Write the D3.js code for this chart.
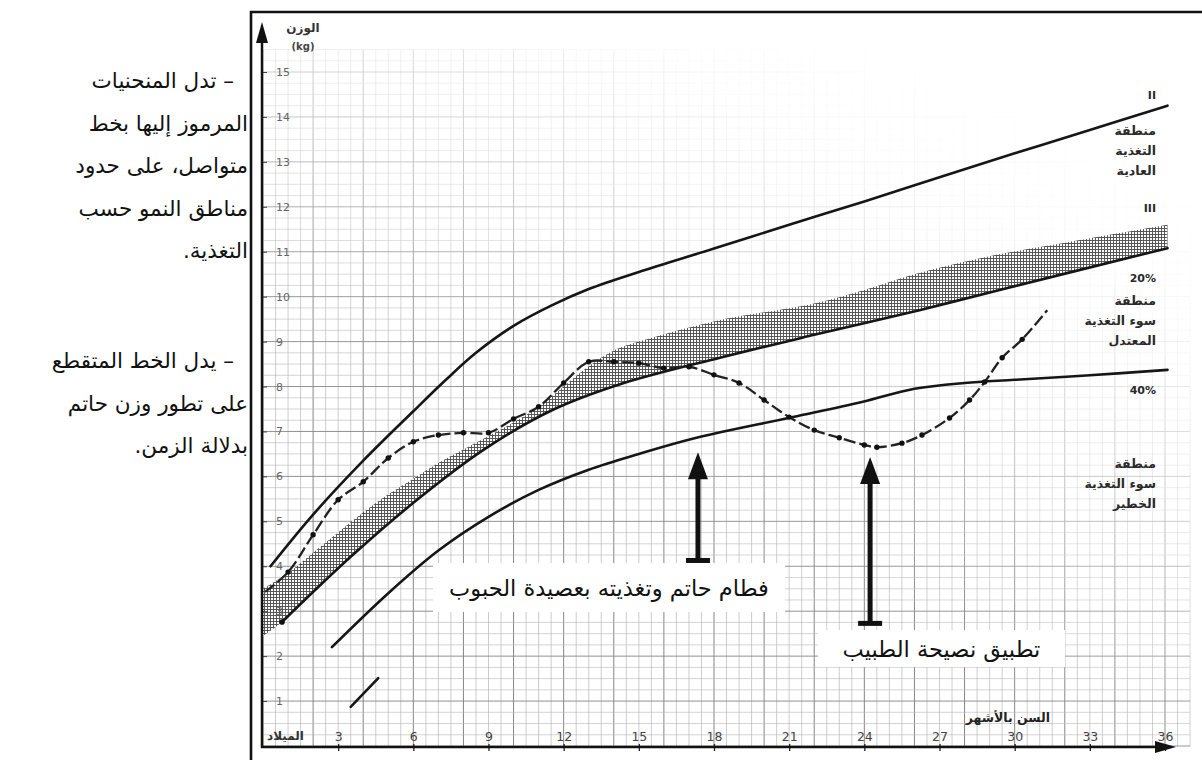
<!DOCTYPE html>
<html><head><meta charset="utf-8">
<script src="https://cdn.jsdelivr.net/npm/d3@7"></script>
<style>
html,body{margin:0;padding:0;background:#fff;}
svg{display:block;}
text{font-family:"DejaVu Sans",sans-serif;}
</style></head><body>
<svg id="chart" width="1202" height="760"></svg>
<script>
// ---------- DATA ----------
const monthTicks = [3,6,9,12,15,18,21,24,27,30,33,36];
const monthTickLabels = ["3","6","9","12","15","18","21","24","27","30","33","36"];
const weightTicks = [1,2,3,4,5,6,7,8,9,10,11,12,13,14,15];
const birthLabel = "الميلاد";
const xTitle = "السن بالأشهر";
const yTitle = ["الوزن","(kg)"];

// boundary curves [month, kg]
const curveII = [[0.3,4.0],[2,5.15],[4,6.35],[6,7.45],[7.3,8.15],[8.5,8.75],[10,9.35],[11.5,9.8],[13,10.17],[15,10.55],[18,11.07],[21,11.6],[24,12.12],[27,12.66],[30,13.19],[33,13.71],[36.1,14.25]];
const curve20 = [[0.76,2.76],[3.5,4.21],[6.15,5.48],[8.8,6.59],[11.45,7.45],[14.25,8.05],[18.24,8.64],[22,9.15],[26.2,9.7],[29.4,10.15],[36.1,11.08]];
const curve40 = [[2.75,2.2],[5,3.4],[7,4.35],[9,5.1],[11,5.7],[13,6.15],[15,6.5],[17.3,6.86],[21.15,7.32],[23.94,7.66],[26,7.95],[28,8.08],[30,8.15],[33,8.25],[36.1,8.37]];
const curve60 = [[3.5,0.87],[4.6,1.51]];
// shaded band (zone III): upper edge, lower edge is curve20
const bandMonths = [0,1,2,3,4,5,6,7,8,9,10,11,12,13,14,15,18,22,24,26,29,32,36.1];
const bandTopKg  = [3.5,3.85,4.3,4.75,5.2,5.6,5.95,6.3,6.6,6.9,7.2,7.55,8.0,8.45,8.8,9.0,9.45,9.85,10.15,10.5,10.9,11.2,11.6];
const bandStartKg = 2.45;   // band lower edge at birth
// Hatem's weight
const hatem = [[0.08,3.43],[1,3.87],[2,4.7],[3,5.48],[4,5.88],[5,6.41],[6,6.77],[7,6.92],[8,6.97],[9,6.97],[10,7.28],[11,7.55],[12,8.08],[13,8.55],[14,8.55],[15,8.52],[16,8.41],[17,8.44],[18,8.26],[19,8.08],[20,7.7],[21,7.32],[22,7.03],[23,6.86],[24,6.7],[24.5,6.65],[25.5,6.74],[26.3,6.92],[27.4,7.3],[28.2,7.7],[28.8,8.1],[29.5,8.64],[30.3,9.05],[31.3,9.7]];

const zoneLabels = [
  {kg:14.4, lines:["II"]},
  {kg:13.6, lines:["منطقة","التغذية","العادية"]},
  {kg:11.88, lines:["III"]},
  {kg:10.33, lines:["20%"]},
  {kg:9.82,  lines:["منطقة","سوء التغذية","المعتدل"]},
  {kg:7.83, lines:["40%"]},
  {kg:6.19,  lines:["منطقة","سوء التغذية","الخطير"]}
];
const notes = [
  ["– تدل المنحنيات","المرموز إليها بخط","متواصل، على حدود","مناطق النمو حسب","التغذية."],
  ["– يدل الخط المتقطع","على تطور وزن حاتم","بدلالة الزمن."]
];
const events = [
  {text:"فطام حاتم وتغذيته بعصيدة الحبوب", month:17.36, tipKg:6.54, baseKg:4.14},
  {text:"تطبيق نصيحة الطبيب", month:24.23, tipKg:6.43, baseKg:2.74}
];

// ---------- DRAW ----------
const svg = d3.select("#chart");
const x = d3.scaleLinear().domain([0,36]).range([263,1165]);
const y = d3.scaleLinear().domain([0,15]).range([746,72]);
const defs = svg.append("defs");

const pat = defs.append("pattern").attr("id","stipple").attr("width",3).attr("height",3).attr("patternUnits","userSpaceOnUse");
pat.append("rect").attr("width",3).attr("height",3).attr("fill","#fff");
pat.append("path").attr("d","M0,0.5H3M0.5,0V3").attr("stroke","#3a3a3a").attr("stroke-width",1);

function fadeGrad(id, stops){
  const g = defs.append("linearGradient").attr("id",id).attr("gradientUnits","userSpaceOnUse")
    .attr("x1",900).attr("y1",40).attr("x2",650).attr("y2",560);
  stops.forEach(s=>g.append("stop").attr("offset",s[0]).attr("stop-color",s[1]));
}
fadeGrad("gMajor",[[0,"#ffffff"],[0.2,"#f6f6f6"],[0.55,"#c4c4c4"],[0.85,"#8c8c8c"],[1,"#858585"]]);
fadeGrad("gMinor",[[0,"#ffffff"],[0.2,"#fafafa"],[0.55,"#dddddd"],[0.85,"#bcbcbc"],[1,"#b6b6b6"]]);

// background graph paper
const grid = svg.append("g");
const minorM = d3.range(0,37.01,0.5), minorK = d3.range(0,15.51,0.25);
grid.selectAll("line.vm").data(minorM).join("line")
  .attr("x1",d=>x(d)).attr("x2",d=>x(d)).attr("y1",y(15.5)).attr("y2",y(0))
  .attr("stroke", d=>d%2===0?"url(#gMajor)":"url(#gMinor)").attr("stroke-width",d=>d%2===0?1:0.7);
grid.selectAll("line.hk").data(minorK).join("line")
  .attr("y1",d=>y(d)).attr("y2",d=>y(d)).attr("x1",x(0)).attr("x2",x(37))
  .attr("stroke", d=>d%1===0?"url(#gMajor)":"url(#gMinor)").attr("stroke-width",d=>d%1===0?0.9:0.6);

// band: upper edge forward + curve20 backward
const line = d3.line().x(d=>x(d[0])).y(d=>y(d[1])).curve(d3.curveCatmullRom);
const topPts = bandMonths.map((m,i)=>[m,bandTopKg[i]]);
const lowPts = [[0,bandStartKg]].concat(curve20).reverse();
const bandPath = line(topPts) + "L" + line(lowPts).slice(1) + "Z";
svg.append("path").attr("d",bandPath).attr("fill","url(#stipple)").attr("opacity",0.85);

// boundary curves
[curveII, curve20, curve40, curve60].forEach(c=>{
  svg.append("path").datum(c).attr("d",line).attr("fill","none")
    .attr("stroke","#161616").attr("stroke-width",2.6).attr("stroke-linecap","round");
});
svg.append("circle").attr("cx",x(curve20[0][0])).attr("cy",y(curve20[0][1])).attr("r",2.8).attr("fill","#111");

// Hatem curve
svg.append("path").datum(hatem).attr("d",line).attr("fill","none")
  .attr("stroke","#222").attr("stroke-width",2.3).attr("stroke-dasharray","12,4");
svg.selectAll("circle.h").data(hatem.slice(1,-1)).join("circle")
  .attr("cx",d=>x(d[0])).attr("cy",d=>y(d[1])).attr("r",2.7).attr("fill","#111");

// axes
const xAxis = svg.append("g").attr("transform",`translate(0,${y(0)+1})`)
  .call(d3.axisBottom(x).tickValues(monthTicks).tickFormat((d,i)=>monthTickLabels[i]).tickSize(4));
xAxis.select(".domain").remove();
xAxis.selectAll(".tick line").attr("y1",-3).attr("stroke","#222").attr("stroke-width",1.3);
xAxis.selectAll(".tick text").attr("y",-6).attr("dy",0).attr("font-size",12.5)
  .attr("fill","#444").attr("font-family","DejaVu Sans");
const yAxis = svg.append("g").attr("transform",`translate(${x(0)-1},0)`)
  .call(d3.axisRight(y).tickValues(weightTicks).tickSize(5).tickPadding(9));
yAxis.select(".domain").remove();
yAxis.selectAll(".tick line").attr("stroke","#444").attr("stroke-width",1);
yAxis.selectAll(".tick text").attr("font-size",11).attr("fill","#666").attr("font-family","DejaVu Sans");

svg.append("line").attr("x1",x(0)-1).attr("x2",x(0)-1).attr("y1",y(0)+2).attr("y2",40)
  .attr("stroke","#111").attr("stroke-width",2.5);
svg.append("path").attr("d",`M${x(0)-1},22 L${x(0)-7},43 L${x(0)+5},43 Z`).attr("fill","#111");
svg.append("line").attr("x1",x(0)-2).attr("x2",1158).attr("y1",y(0)+1).attr("y2",y(0)+1)
  .attr("stroke","#111").attr("stroke-width",2.5);
svg.append("path").attr("d",`M1176,${y(0)+1} L1155,${y(0)-5} L1155,${y(0)+7} Z`).attr("fill","#111");

svg.append("text").attr("x",x(0)+4).attr("y",y(0)-6).attr("font-size",12).attr("font-weight","bold")
  .attr("fill","#333").attr("text-anchor","start").text(birthLabel);
svg.append("text").attr("x",1050).attr("y",722).attr("font-size",12.5).attr("font-weight","bold")
  .attr("fill","#222").attr("text-anchor","end").text(xTitle);
svg.append("text").attr("x",303).attr("y",32).attr("font-size",12).attr("font-weight","bold")
  .attr("fill","#333").attr("text-anchor","middle").text(yTitle[0]);
svg.append("text").attr("x",303).attr("y",50).attr("font-size",10).attr("font-weight","bold")
  .attr("fill","#444").attr("text-anchor","middle").text(yTitle[1]);

// zone labels on right
zoneLabels.forEach(z=>{
  z.lines.forEach((t,i)=>{
    svg.append("text").attr("x",1156).attr("y",y(z.kg)+i*20)
      .attr("font-size", t.length<4?11:12.5).attr("font-weight","bold").attr("fill","#2a2a2a")
      .attr("text-anchor","end").text(t);
  });
});

// events: arrows + labels
const boxes = [{x:433,y:563,w:352,h:49},{x:818,y:630,w:247,h:37}];
events.forEach((e,i)=>{
  const ax = x(e.month), ty = y(e.tipKg), by = y(e.baseKg);
  svg.append("line").attr("x1",ax).attr("x2",ax).attr("y1",by).attr("y2",ty+20)
    .attr("stroke","#111").attr("stroke-width",5);
  svg.append("path").attr("d",`M${ax},${ty} L${ax-10},${ty+27} L${ax+10},${ty+27} Z`).attr("fill","#111");
  svg.append("rect").attr("x",ax-12).attr("y",by-2).attr("width",24).attr("height",5).attr("fill","#111");
  const b = boxes[i];
  svg.append("rect").attr("x",b.x).attr("y",b.y).attr("width",b.w).attr("height",b.h).attr("fill","#fff");
  svg.append("text").attr("x",b.x+b.w/2).attr("y",b.y+b.h/2+8).attr("font-size",22.5)
    .attr("fill","#111").attr("text-anchor","middle").attr("direction","rtl").text(e.text);
});

// left notes
const noteTops = [88, 368];
notes.forEach((para,p)=>{
  para.forEach((t,i)=>{
    svg.append("text").attr("x", i===0?234:248).attr("y",noteTops[p]+i*42.5)
      .attr("font-size",21.5).attr("fill","#111").attr("direction","rtl")
      .attr("text-anchor","start").text(t);
  });
});

// frame
svg.append("path").attr("d","M251,760 V12 H1202").attr("fill","none").attr("stroke","#111").attr("stroke-width",2.6);
</script>
</body></html>
